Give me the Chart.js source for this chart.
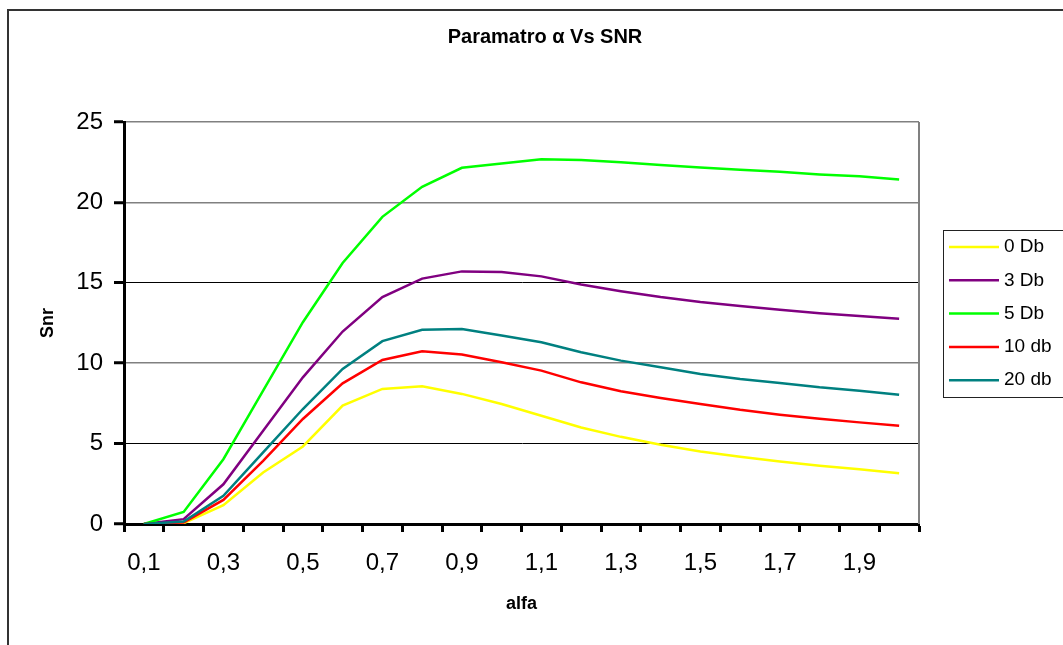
<!DOCTYPE html>
<html>
<head>
<meta charset="utf-8">
<script src="https://cdn.jsdelivr.net/npm/chart.js@4.4.1/dist/chart.umd.min.js"></script>
<style>
  html, body { margin: 0; padding: 0; background: #fff; }
  #wrap { width: 1063px; height: 645px; position: relative; }
</style>
</head>
<body>
<div id="wrap"><canvas id="myChart" width="1063" height="645"></canvas></div>
<script>
const FONT = '"Liberation Sans", Arial, sans-serif';

const chartTitle = 'Paramatro α Vs SNR';
const xTitle = 'alfa';
const yTitle = 'Snr';

const alfa = ['0,1', '0,2', '0,3', '0,4', '0,5', '0,6', '0,7', '0,8', '0,9', '1,0',
              '1,1', '1,2', '1,3', '1,4', '1,5', '1,6', '1,7', '1,8', '1,9', '2,0'];

const seriesNames = ['0 Db', '3 Db', '5 Db', '10 db', '20 db'];
const seriesColors = ['#FFFF00', '#800080', '#00FF00', '#FF0000', '#008080'];

const snr0 = [0, 0.05, 1.17, 3.2, 4.82, 7.36, 8.4, 8.56, 8.09, 7.46, 6.73, 6.0, 5.42, 4.93, 4.51, 4.18, 3.88, 3.62, 3.41, 3.16];
const snr3 = [0, 0.3, 2.47, 5.8, 9.12, 11.97, 14.11, 15.26, 15.71, 15.67, 15.4, 14.9, 14.48, 14.11, 13.8, 13.55, 13.32, 13.11, 12.93, 12.76];
const snr5 = [0, 0.75, 4.03, 8.3, 12.55, 16.23, 19.1, 20.97, 22.15, 22.42, 22.69, 22.63, 22.49, 22.32, 22.17, 22.03, 21.9, 21.74, 21.63, 21.43];
const snr10 = [0, 0.1, 1.5, 3.93, 6.53, 8.75, 10.2, 10.74, 10.54, 10.06, 9.54, 8.81, 8.25, 7.83, 7.46, 7.1, 6.8, 6.55, 6.32, 6.11];
const snr20 = [0, 0.15, 1.75, 4.45, 7.15, 9.64, 11.37, 12.08, 12.12, 11.72, 11.3, 10.68, 10.16, 9.75, 9.33, 9.02, 8.77, 8.5, 8.29, 8.04];

const yTicks = [0, 5, 10, 15, 20, 25];

const allSeries = [snr0, snr3, snr5, snr10, snr20];

// title, frame, plot border and legend box, excel style
const decor = {
  id: 'decor',
  afterDraw(chart) {
    const ctx = chart.ctx;
    const a = chart.chartArea;
    ctx.save();

    // outer frame
    ctx.strokeStyle = '#333';
    ctx.lineWidth = 2;
    ctx.strokeRect(8, 10, 1100, 700);

    // right border of plot area
    ctx.strokeStyle = '#808080';
    ctx.lineWidth = 2;
    ctx.beginPath();
    ctx.moveTo(a.right, a.top);
    ctx.lineTo(a.right, a.bottom);
    ctx.stroke();

    // title
    ctx.fillStyle = '#000';
    ctx.font = 'bold 20px ' + FONT;
    ctx.textAlign = 'center';
    ctx.textBaseline = 'middle';
    ctx.fillText(chartTitle, 545, 37);

    // legend
    ctx.strokeStyle = '#222';
    ctx.lineWidth = 1;
    ctx.strokeRect(943.5, 230.5, 200, 167);
    ctx.font = '19px ' + FONT;
    ctx.textAlign = 'left';
    chart.data.datasets.forEach((ds, i) => {
      const y = 247 + i * 33.3;
      ctx.strokeStyle = ds.borderColor;
      ctx.lineWidth = 2.5;
      ctx.beginPath();
      ctx.moveTo(949, y);
      ctx.lineTo(999, y);
      ctx.stroke();
      ctx.fillStyle = '#000';
      ctx.fillText(ds.label, 1004, y);
    });
    ctx.restore();
  }
};

const ctx = document.getElementById('myChart');

new Chart(ctx, {
  type: 'line',
  data: {
    labels: alfa,
    datasets: allSeries.map((d, i) => ({
      label: seriesNames[i],
      data: d,
      borderColor: seriesColors[i],
      backgroundColor: seriesColors[i],
      borderWidth: 2.5,
      pointRadius: 0,
      tension: 0,
      order: allSeries.length - i
    }))
  },
  options: {
    responsive: false,
    animation: false,
    layout: { padding: { left: 0, top: 122, right: 144, bottom: 0 } },
    plugins: {
      legend: { display: false },
      title: { display: false },
      tooltip: { enabled: false }
    },
    scales: {
      x: {
        type: 'category',
        offset: true,
        afterFit(scale) { scale.height = 121; },
        grid: {
          offset: true,
          drawOnChartArea: false,
          tickLength: 8,
          tickWidth: 3,
          tickColor: '#000'
        },
        border: { color: '#000', width: 3 },
        ticks: {
          autoSkip: false,
          maxRotation: 0,
          padding: 17,
          color: '#000',
          font: { family: FONT, size: 24 },
          callback(v, i) { return i % 2 === 0 ? alfa[i] : ''; }
        },
        title: {
          display: true,
          text: xTitle,
          color: '#000',
          font: { family: FONT, size: 18, weight: 'bold' },
          padding: { top: 0, bottom: 30 }
        }
      },
      y: {
        min: 0,
        max: 25,
        afterFit(scale) { scale.width = 124; },
        afterBuildTicks(scale) { scale.ticks = yTicks.map(v => ({ value: v })); },
        grid: {
          color(c) {
            const v = c.tick ? c.tick.value : 0;
            return (v === 5 || v === 15) ? '#000' : '#808080';
          },
          lineWidth(c) {
            const v = c.tick ? c.tick.value : 0;
            return (v === 5 || v === 15) ? 1 : 1.5;
          },
          tickLength: 10,
          tickWidth: 3,
          tickColor: '#000'
        },
        border: { color: '#000', width: 3 },
        ticks: {
          padding: 11,
          color: '#000',
          font: { family: FONT, size: 24 }
        },
        title: {
          display: true,
          text: yTitle,
          color: '#000',
          font: { family: FONT, size: 18, weight: 'bold' },
          padding: { top: 37, bottom: 0 }
        }
      }
    }
  },
  plugins: [decor]
});
</script>
</body>
</html>
